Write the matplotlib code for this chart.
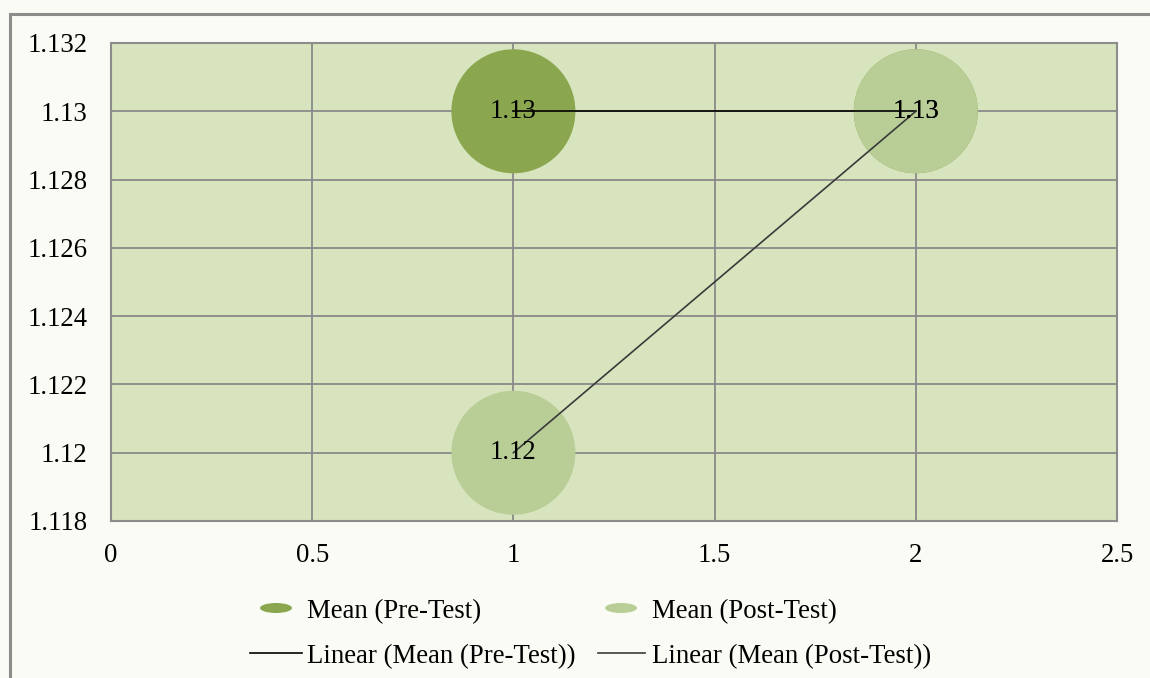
import matplotlib
matplotlib.use("Agg")
import matplotlib.pyplot as plt
from matplotlib.patches import Ellipse, Rectangle
from matplotlib.lines import Line2D

plt.rcParams['font.family'] = ['Liberation Serif', 'DejaVu Serif']

# data
x_vals = [1, 2]
pre_test = [1.13, 1.13]
post_test = [1.12, 1.13]
bubble_sizes = [1, 1]
series_names = ["Mean (Pre-Test)", "Mean (Post-Test)"]
trend_names = ["Linear (Mean (Pre-Test))", "Linear (Mean (Post-Test))"]
x_ticks = [0, 0.5, 1, 1.5, 2, 2.5]
y_ticks = [1.118, 1.12, 1.122, 1.124, 1.126, 1.128, 1.13, 1.132]

W, H = 1150, 678
DPI = 100
FS = 19.3
dark_green = "#8aa74f"
light_green = "#b9ce96"
plot_bg = "#d7e4bd"
grid_col = "#8a8a8a"

fig = plt.figure(figsize=(W / DPI, H / DPI), dpi=DPI)
fig.patch.set_facecolor("#fbfbf5")


def fx(px):
    return px / W


def fy(py):
    return 1 - py / H


# chart area frame
fig.add_artist(Rectangle((fx(10), fy(700)), fx(1200), 686 / H, transform=fig.transFigure,
                         fill=False, edgecolor="#8c8c8c", linewidth=2.2))

left, right, top, bottom = 111, 1117, 43, 521
ax = fig.add_axes([fx(left), fy(bottom), fx(right - left), (bottom - top) / H])
ax.set_facecolor(plot_bg)
ax.set_xlim(0, 2.5)
ax.set_ylim(1.118, 1.132)
ax.set_xticks(x_ticks)
ax.set_yticks(y_ticks)
ax.set_xticklabels([f"{v:g}" for v in x_ticks])
ax.set_yticklabels([f"{v:g}" for v in y_ticks])
ax.tick_params(length=0, labelsize=FS, colors="black")
ax.tick_params(axis="y", pad=17)
ax.tick_params(axis="x", pad=16)
ax.grid(True, color=grid_col, linewidth=1.3)
ax.set_axisbelow(True)
for s in ax.spines.values():
    s.set_color("#8c8c8c")
    s.set_linewidth(1.5)

# bubble diameter: 124 px in points
base_s = (124 * 72 / DPI) ** 2
ax.scatter(x_vals, pre_test, s=[b * base_s for b in bubble_sizes], color=dark_green,
           edgecolors="none", zorder=2)
ax.scatter(x_vals, post_test, s=[b * base_s for b in bubble_sizes], color=light_green,
           edgecolors="none", zorder=3)

# linear trendlines
for ys, col in [(pre_test, "black"), (post_test, "#3a3a3a")]:
    n = len(x_vals)
    mx = sum(x_vals) / n
    my = sum(ys) / n
    slope = sum((x - mx) * (y - my) for x, y in zip(x_vals, ys)) / sum((x - mx) ** 2 for x in x_vals)
    icpt = my - slope * mx
    ax.plot([x_vals[0], x_vals[-1]], [icpt + slope * x_vals[0], icpt + slope * x_vals[-1]],
            color=col, linewidth=1.2, zorder=4)

# data labels
for ys in (pre_test, post_test):
    for x, y in zip(x_vals, ys):
        ax.text(x, y, f"{y:g}", ha="center", va="center", fontsize=FS, zorder=5)

# legend
row1, row2 = 608, 653
txt_off = 4
fig.add_artist(Ellipse((fx(276), fy(row1)), fx(32), 10 / H, transform=fig.transFigure,
                       color=dark_green, linewidth=0))
fig.text(fx(307), fy(row1 + txt_off), series_names[0], fontsize=FS, va="center", ha="left")
fig.add_artist(Ellipse((fx(621), fy(row1)), fx(32), 10 / H, transform=fig.transFigure,
                       color=light_green, linewidth=0))
fig.text(fx(652), fy(row1 + txt_off), series_names[1], fontsize=FS, va="center", ha="left")
fig.add_artist(Line2D([fx(250), fx(302)], [fy(row2), fy(row2)], transform=fig.transFigure,
                      color="black", linewidth=1.2))
fig.text(fx(307), fy(row2 + txt_off), trend_names[0], fontsize=FS, va="center", ha="left")
fig.add_artist(Line2D([fx(598), fx(645)], [fy(row2), fy(row2)], transform=fig.transFigure,
                      color="#3a3a3a", linewidth=1.2))
fig.text(fx(652), fy(row2 + txt_off), trend_names[1], fontsize=FS, va="center", ha="left")

fig.savefig("out.png", dpi=DPI, facecolor=fig.get_facecolor())
